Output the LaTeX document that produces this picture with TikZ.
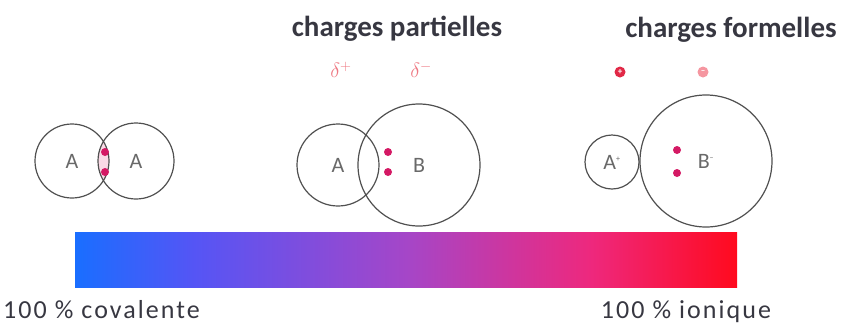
\documentclass[tikz,border=0pt]{standalone}
\usepackage{fontspec}
\setmainfont{Carlito}
\newfontfamily\scalefamily[LetterSpace=8]{Carlito}
\usetikzlibrary{positioning}
\definecolor{bdGrey}  {RGB}{ 80, 80, 80}
\definecolor{bdLabel} {RGB}{105,105,105}
\definecolor{bdText}  {RGB}{ 55, 55, 65}
\definecolor{bdDot}   {RGB}{212, 25,100}
\definecolor{bdPink}  {RGB}{250,218,230}
\definecolor{bdRed}   {RGB}{225, 40, 70}
\definecolor{bdRedL}  {RGB}{245,150,160}
\definecolor{bdDelta} {RGB}{238,120,130}
\definecolor{bdBlue}  {RGB}{ 25,110,255}
\definecolor{bdBlueV} {RGB}{ 85, 85,245}
\definecolor{bdPurple}{RGB}{165, 70,200}
\definecolor{bdMagenta}{RGB}{238, 40,125}
\definecolor{bdRedE}  {RGB}{255, 10, 30}
\pgfdeclarehorizontalshading{bondbar}{100bp}{color(0bp)=(bdBlue); color(25bp)=(bdBlue);
  color(34bp)=(bdBlueV); color(50bp)=(bdPurple); color(64bp)=(bdMagenta);
  color(75bp)=(bdRedE); color(100bp)=(bdRedE)}

\begin{document}
\begin{tikzpicture}[
  x=1pt,y=-1pt,
  atom/.style={circle,draw=bdGrey,line width=1.2pt,inner sep=0pt,
               text=bdLabel,font=\fontsize{22}{22}\selectfont},
  pair/.style={circle,fill=bdDot,inner sep=0pt,minimum size=8pt},
  headline/.style={text=bdText,anchor=base,font=\fontsize{29}{29}\selectfont\bfseries},
  scaletext/.style={text=bdText,font=\fontsize{26}{26}\scalefamily,inner sep=0pt},
  deltalbl/.style={text=bdDelta,font=\fontsize{20}{20}\selectfont},
  fcharge/.style={circle,inner sep=0pt,minimum size=11pt,text=white,
                  font=\fontsize{9}{9}\selectfont\bfseries}
]
\useasboundingbox (0,0) rectangle (844,325);

% covalent pair
\begin{scope}
  \clip (72,161) circle (37);
  \fill[bdPink] (136,161) circle (38);
\end{scope}
\node[atom,minimum size=74pt] (A1) at (72,161) {A};
\node[atom,minimum size=76pt] (A2) at (136,161) {A};
\node[pair] (d1) at (105,152) {};
\node[pair] (d2) at (105,172) {};

% polar bond
\node[headline] (tp) at (397,36) {charges partielles};
\node[deltalbl] (dp) at (341,70) {$\delta^{+}$};
\node[deltalbl] (dm) at (421,70) {$\delta^{-}$};
\node[atom,minimum size=82pt]  (A3) at (338,165) {A};
\node[atom,minimum size=122pt] (B3) at (419,165) {B};
\node[pair] (d3) at (388,152) {};
\node[pair] (d4) at (388,172) {};

% ionic bond
\node[headline] (tf) at (731,37) {charges formelles};
\node[fcharge,fill=bdRed]  (cp) at (620,72) {+};
\node[fcharge,fill=bdRedL] (cm) at (703,72) {--};
\node[atom,minimum size=54pt]  (A4) at (612,162) {A\textsuperscript{\fontsize{8}{8}\selectfont +}};
\node[atom,minimum size=132pt] (B4) at (706,161) {B\textsuperscript{\fontsize{8}{8}\selectfont --}};
\node[pair] (d5) at (677,150) {};
\node[pair] (d6) at (677,173) {};

% scale
\shade[shading=bondbar] (75,232) rectangle (737,287);
\node[scaletext,anchor=base west] (cov) at (3,318) {100 \% covalente};
\node[scaletext,anchor=base] (ion) at (686,318) {100 \% ionique};
\end{tikzpicture}
\end{document}
